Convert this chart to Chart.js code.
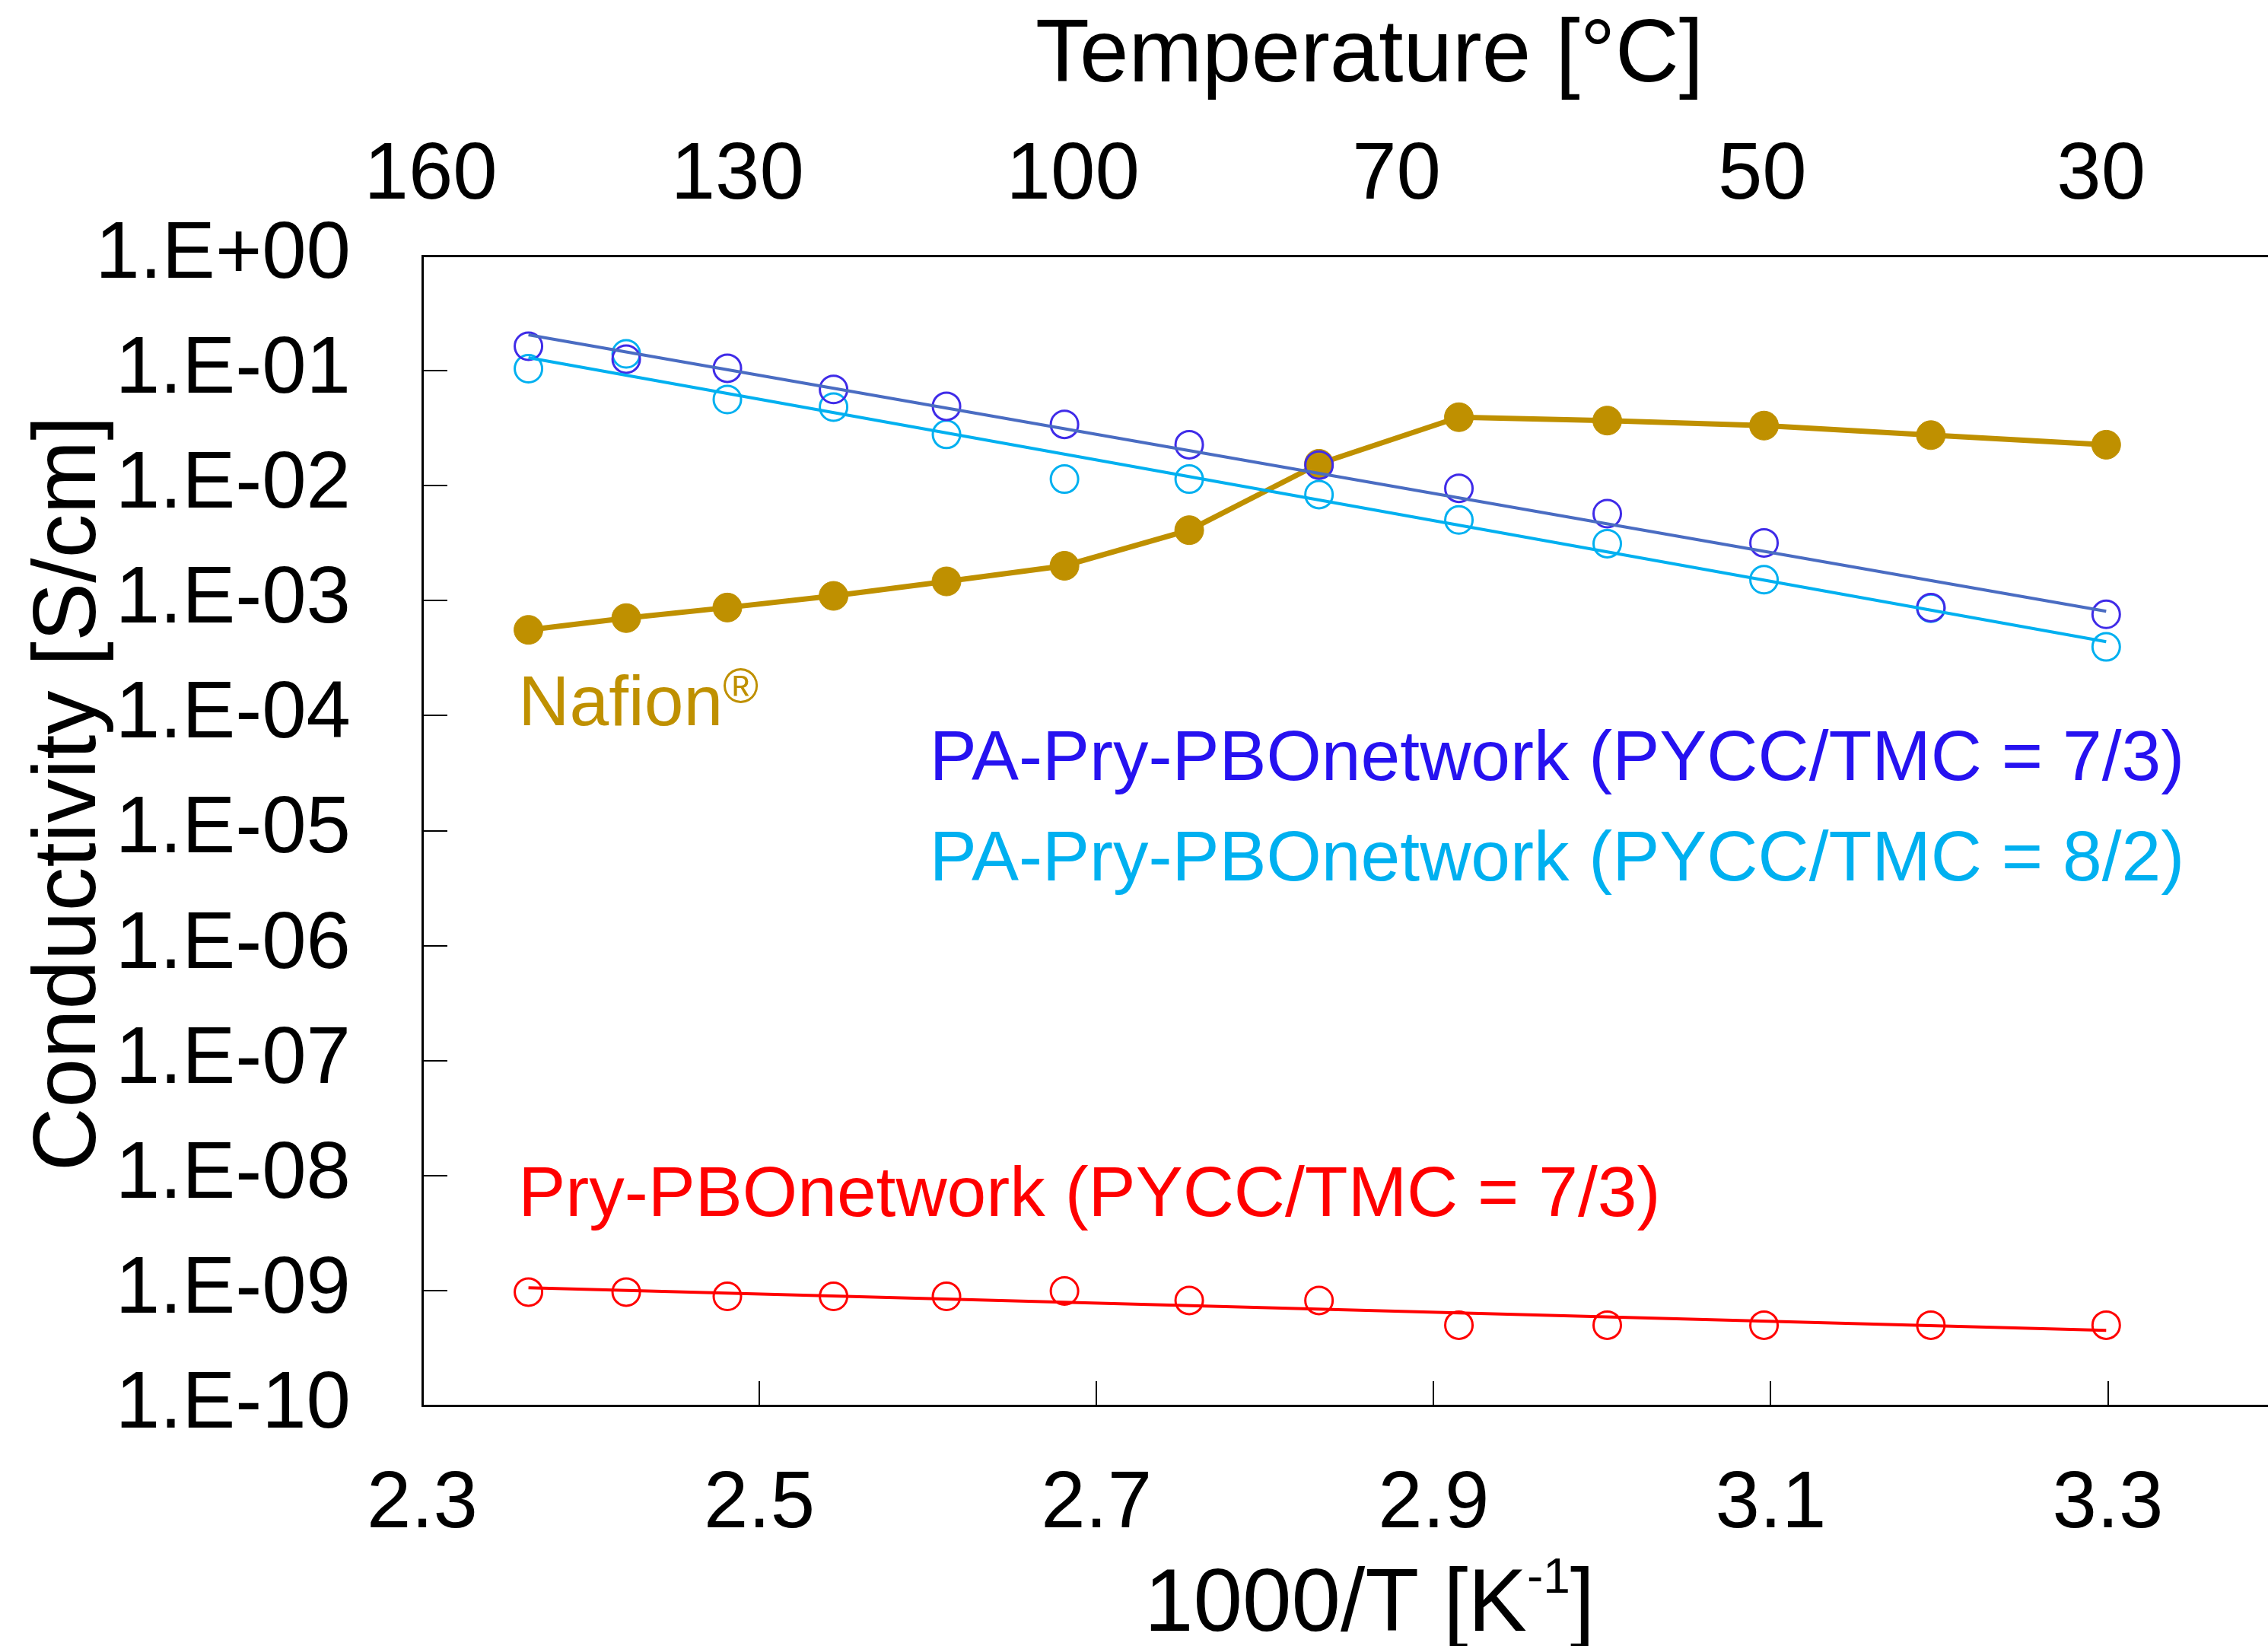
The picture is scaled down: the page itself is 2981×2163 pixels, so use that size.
<!DOCTYPE html>
<html>
<head>
<meta charset="utf-8">
<script src="https://cdn.jsdelivr.net/npm/chart.js@4.4.0/dist/chart.umd.min.js"></script>
<style>
    html, body { margin: 0; padding: 0; background: #fff; }
    #wrap { width: 2981px; height: 2163px; }
</style>
</head>
<body>
<div id="wrap"><canvas id="chart" width="2981" height="2163"></canvas></div>
<script>
// 1000/T for 150 ... 30 degC
const invT = [2.363, 2.421, 2.481, 2.544, 2.611, 2.681, 2.755, 2.832, 2.915, 3.003, 3.096, 3.195, 3.299];

const nafion = [0.000557, 0.000705, 0.000871, 0.0011, 0.00147, 0.00201, 0.0041, 0.0155, 0.0394, 0.0368, 0.0333, 0.0275, 0.0227];
const paPry73 = [0.163, 0.126, 0.105, 0.0687, 0.049, 0.0341, 0.0227, 0.0151, 0.00948, 0.00571, 0.00318, 0.00087, 0.00076];
const paPry82 = [0.104, 0.140, 0.0561, 0.0482, 0.0279, 0.0114, 0.0114, 0.00836, 0.00503, 0.00313, 0.00152, 0.00086, 0.000396];
const pry73 = [9.7e-10, 9.7e-10, 8.9e-10, 8.9e-10, 8.9e-10, 9.9e-10, 8.2e-10, 8.2e-10, 5.0e-10, 5.0e-10, 5.0e-10, 5.0e-10, 5.0e-10];

// Arrhenius fit lines (end points)
const fitX = [2.363, 3.299];
const fit73 = [0.205, 0.000808];
const fit82 = [0.1297, 0.000439];
const fitPry = [1.056e-9, 4.5e-10];

const seriesNames = ['Nafion®', 'PA-Pry-PBOnetwork (PYCC/TMC = 7/3)', 'PA-Pry-PBOnetwork (PYCC/TMC = 8/2)', 'Pry-PBOnetwork (PYCC/TMC = 7/3)'];

const xTicks = [2.3, 2.5, 2.7, 2.9, 3.1, 3.3];
const yTicks = [1e-10, 1e-9, 1e-8, 1e-7, 1e-6, 1e-5, 1e-4, 1e-3, 1e-2, 1e-1, 1];
const topTickLabels = ['160', '130', '100', '70', '50', '30'];
const topTickPos = [2.305, 2.487, 2.686, 2.878, 3.095, 3.296];

const GOLD = '#bf9000';
const BLUE = '#3f2be8';
const BLUE_TEXT = '#2612f0';
const BLUE_FIT = '#4a6cc2';
const CYAN = '#00b0f0';
const RED = '#ff0000';
const FONT = '"Liberation Sans", Arial, sans-serif';

Chart.defaults.font.family = FONT;
Chart.defaults.color = '#000';

const pts = (xs, ys) => xs.map((x, i) => ({x: x, y: ys[i]}));

// text labels next to the curves, in data coordinates
const labelPos = [
    {x: 2.357, y: 8.26e-5, color: GOLD},
    {x: 2.601, y: 2.75e-5, color: BLUE_TEXT},
    {x: 2.601, y: 3.69e-6, color: CYAN},
    {x: 2.357, y: 4.45e-9, color: RED}
];

const innerTicks = {
    id: 'innerTicks',
    beforeDatasetsDraw(chart) {
        const {ctx, chartArea: a, scales: {x, y}} = chart;
        ctx.save();
        ctx.strokeStyle = '#000';
        ctx.lineWidth = 2;
        ctx.beginPath();
        xTicks.forEach(v => {
            const px = Math.round(x.getPixelForValue(v));
            ctx.moveTo(px, a.bottom);
            ctx.lineTo(px, a.bottom - 32);
        });
        yTicks.forEach(v => {
            const py = Math.round(y.getPixelForValue(v));
            ctx.moveTo(a.left, py);
            ctx.lineTo(a.left + 33, py);
        });
        ctx.stroke();
        ctx.restore();
    }
};

const texts = {
    id: 'texts',
    afterDraw(chart) {
        const {ctx, scales: {x, y}} = chart;
        ctx.save();
        ctx.textBaseline = 'alphabetic';

        // series labels
        ctx.font = '93px ' + FONT;
        ctx.textAlign = 'left';
        labelPos.forEach((p, i) => {
            const px = x.getPixelForValue(p.x);
            const py = y.getPixelForValue(p.y);
            let name = seriesNames[i];
            ctx.fillStyle = p.color;
            if (name.endsWith('®')) {
                name = name.slice(0, -1);
                ctx.font = '93px ' + FONT;
                ctx.fillText(name, px, py);
                const w = ctx.measureText(name).width;
                ctx.font = '64px ' + FONT;
                ctx.fillText('®', px + w, py - 30);
                ctx.font = '93px ' + FONT;
            } else {
                ctx.fillText(name, px, py);
            }
        });

        ctx.fillStyle = '#000';
        // top title
        ctx.font = '116px ' + FONT;
        ctx.textAlign = 'center';
        ctx.fillText('Temperature [°C]', 1800, 107);

        // bottom title with superscript
        ctx.textAlign = 'left';
        const a = '1000/T [K', sup = '-1', b = ']';
        ctx.font = '116px ' + FONT;
        const wa = ctx.measureText(a).width, wb = ctx.measureText(b).width;
        ctx.font = '64px ' + FONT;
        const ws = ctx.measureText(sup).width;
        let sx = 1800 - (wa + ws + wb) / 2;
        ctx.font = '116px ' + FONT;
        ctx.fillText(a, sx, 2143);
        sx += wa;
        ctx.font = '64px ' + FONT;
        ctx.fillText(sup, sx, 2143 - 50);
        sx += ws;
        ctx.font = '116px ' + FONT;
        ctx.fillText(b, sx, 2143);

        // left title
        ctx.translate(125, 1043);
        ctx.rotate(-Math.PI / 2);
        ctx.textAlign = 'center';
        ctx.fillText('Conductivity [S/cm]', 0, 0);
        ctx.restore();
    }
};

const config = {
    type: 'scatter',
    data: {
        datasets: [
            {
                label: seriesNames[3] + ' fit',
                data: pts(fitX, fitPry),
                showLine: true,
                borderColor: RED,
                borderWidth: 4,
                pointRadius: 0
            },
            {
                label: seriesNames[3],
                data: pts(invT, pry73),
                borderColor: RED,
                backgroundColor: 'rgba(0,0,0,0)',
                pointRadius: 18,
                pointBorderWidth: 3
            },
            {
                label: seriesNames[1] + ' fit',
                data: pts(fitX, fit73),
                showLine: true,
                borderColor: BLUE_FIT,
                borderWidth: 4,
                pointRadius: 0
            },
            {
                label: seriesNames[2] + ' fit',
                data: pts(fitX, fit82),
                showLine: true,
                borderColor: CYAN,
                borderWidth: 4,
                pointRadius: 0
            },
            {
                label: seriesNames[1],
                data: pts(invT, paPry73),
                borderColor: BLUE,
                backgroundColor: 'rgba(0,0,0,0)',
                pointRadius: 18,
                pointBorderWidth: 3
            },
            {
                label: seriesNames[2],
                data: pts(invT, paPry82),
                borderColor: CYAN,
                backgroundColor: 'rgba(0,0,0,0)',
                pointRadius: 18,
                pointBorderWidth: 3
            },
            {
                label: seriesNames[0],
                data: pts(invT, nafion),
                showLine: true,
                borderColor: GOLD,
                backgroundColor: GOLD,
                borderWidth: 7,
                pointRadius: 19,
                pointBorderWidth: 1,
                tension: 0
            }
        ]
    },
    options: {
        responsive: false,
        devicePixelRatio: 1,
        animation: false,
        layout: {padding: 0, autoPadding: false},
        plugins: {
            legend: {display: false},
            tooltip: {enabled: false}
        },
        scales: {
            x: {
                type: 'linear',
                position: 'bottom',
                min: 2.3,
                max: 3.395,
                afterBuildTicks: s => { s.ticks = xTicks.map(v => ({value: v})); },
                afterFit: s => { s.height = 316; },
                grid: {display: false},
                border: {display: true, color: '#000', width: 3},
                ticks: {
                    font: {size: 105},
                    color: '#000',
                    padding: 60,
                    maxRotation: 0,
                    autoSkip: false,
                    callback: v => v.toFixed(1)
                }
            },
            x2: {
                type: 'linear',
                position: 'top',
                min: 2.3,
                max: 3.395,
                afterBuildTicks: s => { s.ticks = topTickPos.map(v => ({value: v})); },
                afterFit: s => { s.height = 336; },
                grid: {display: false},
                border: {display: true, color: '#000', width: 3},
                ticks: {
                    font: {size: 105},
                    color: '#000',
                    padding: 33,
                    maxRotation: 0,
                    autoSkip: false,
                    callback: (v, i) => topTickLabels[i]
                }
            },
            y: {
                type: 'logarithmic',
                position: 'left',
                min: 1e-10,
                max: 1,
                afterBuildTicks: s => { s.ticks = yTicks.map(v => ({value: v})); },
                afterFit: s => { s.width = 555; },
                grid: {display: false},
                border: {display: true, color: '#000', width: 3},
                ticks: {
                    font: {size: 105},
                    color: '#000',
                    padding: 86,
                    autoSkip: false,
                    callback: v => {
                        const e = Math.round(Math.log10(v));
                        return '1.E' + (e >= 0 ? '+' : '-') + String(Math.abs(e)).padStart(2, '0');
                    }
                }
            }
        }
    },
    plugins: [innerTicks, texts]
};

window.onload = () => {
    const ctx = document.getElementById('chart').getContext('2d');
    window.myChart = new Chart(ctx, config);
};
</script>
</body>
</html>
